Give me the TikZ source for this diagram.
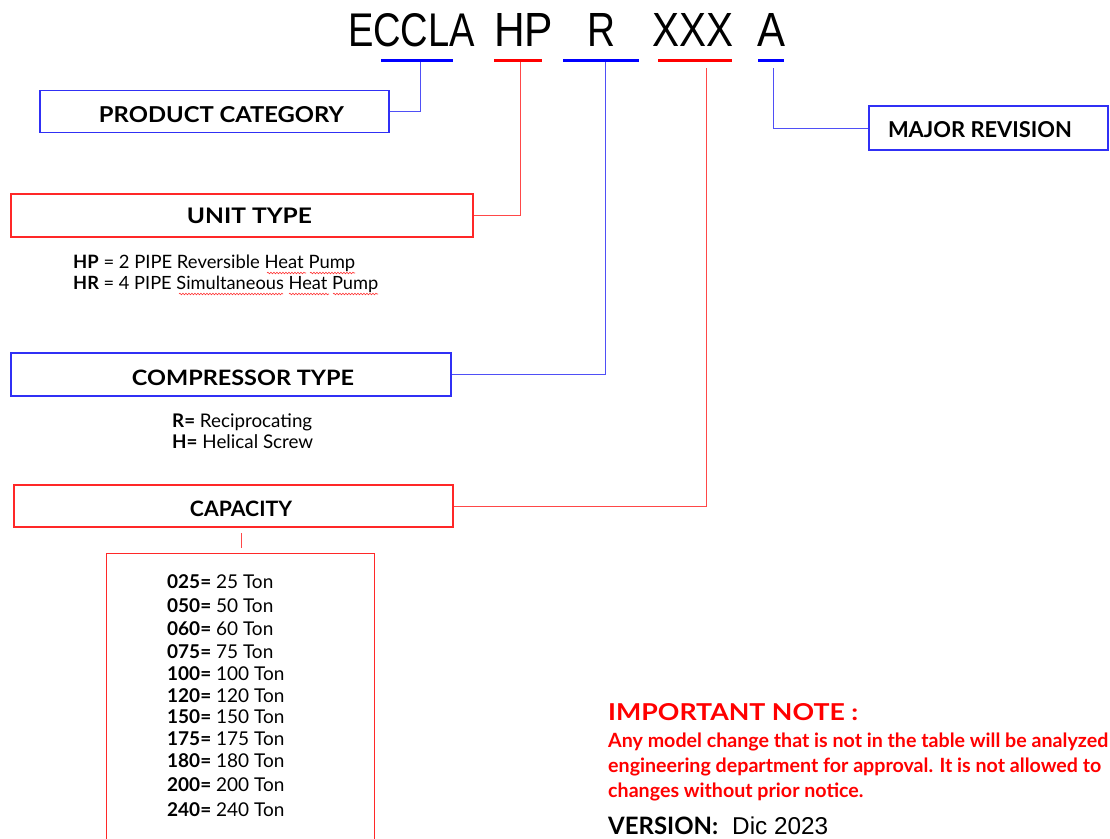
\documentclass[tikz,border=0pt]{standalone}
\usepackage{fontspec}
\setmainfont{Lato}
\newfontfamily\titlefont{Liberation Sans}
\usetikzlibrary{decorations.pathmorphing}
\definecolor{cblue}{HTML}{3030F5}
\definecolor{cred}{HTML}{FF2828}
\definecolor{ublue}{HTML}{0000FF}
\definecolor{ured}{HTML}{FF0000}
\newlength\nlw
\tikzset{
 bbox/.style={draw=cblue, line width=1.4pt, inner sep=0pt},
 rbox/.style={draw=cred, line width=1.4pt, inner sep=0pt},
 bcon/.style={draw=cblue!85, line width=1pt},
 rcon/.style={draw=cred!85, line width=1pt},
 bul/.style={draw=ublue, line width=3pt},
 rul/.style={draw=ured, line width=3pt},
 txt/.style={inner sep=0pt, anchor=base west},
 lab/.style={inner sep=0pt, anchor=base},
 squig/.style={draw=red!80, line width=0.6pt, decorate, decoration={snake, amplitude=0.8pt, segment length=3pt}}
}
\newcommand\bodyfont{\fontsize{16}{19}\selectfont}
\newcommand\capfont{\fontsize{19}{22}\selectfont}
\newcommand\notefont{\fontsize{16}{19}\selectfont\bfseries}
\AtBeginDocument{\settowidth\nlw{\notefont Any model change that is not in the table will be analyzed}}
\begin{document}
\begin{tikzpicture}[x=1pt,y=-1pt]
\pgfmathsetmacro\nsc{500/\nlw}
\useasboundingbox (0,0) rectangle (1110,838);
\fill[white] (0,0) rectangle (1110,838);
% title
\node[lab] (t1) at (411.5,46) {\resizebox{127pt}{33pt}{\titlefont ECCLA}};
\node[lab] (t2) at (523.5,46) {\resizebox{59pt}{33pt}{\titlefont HP}};
\node[lab] (t3) at (601,46) {\resizebox{28pt}{33pt}{\titlefont R}};
\node[lab] (t4) at (693,46) {\resizebox{81pt}{33pt}{\titlefont XXX}};
\node[lab] (t5) at (771,46) {\resizebox{28pt}{33pt}{\titlefont A}};
% underlines
\coordinate (u1a) at (381,60); \coordinate (u1b) at (453,60);
\coordinate (u2a) at (494,60); \coordinate (u2b) at (542,60);
\coordinate (u3a) at (563,60); \coordinate (u3b) at (639,60);
\coordinate (u4a) at (658,60); \coordinate (u4b) at (732,60);
\coordinate (u5a) at (758,60); \coordinate (u5b) at (784,60);
\draw[bul] (u1a) -- (u1b);
\draw[rul] (u2a) -- (u2b);
\draw[bul] (u3a) -- (u3b);
\draw[rul] (u4a) -- (u4b);
\draw[bul] (u5a) -- (u5b);
% connector tops
\coordinate (c1) at (420,62);
\coordinate (c2) at (520,62);
\coordinate (c3) at (605,62);
\coordinate (c4) at (706,68);
\coordinate (c5) at (773,68);
% boxes
\node[bbox, minimum width=349pt, minimum height=42pt] (pc) at (214.5,111.5) {};
\node[lab] (pct) at (221.5,122) {\resizebox{245pt}{16pt}{\bfseries PRODUCT CATEGORY}};
\node[rbox, minimum width=462pt, minimum height=43pt] (ut) at (242,215.5) {};
\node[lab] (utt) at (249.5,223) {\resizebox{125pt}{15.5pt}{\bfseries UNIT TYPE}};
\node[bbox, minimum width=440pt, minimum height=43pt] (ct) at (231,374.5) {};
\node[lab] (ctt) at (243,385) {\resizebox{222pt}{15.5pt}{\bfseries COMPRESSOR TYPE}};
\node[rbox, minimum width=439pt, minimum height=42pt] (cp) at (233.5,506) {};
\node[lab] (cpt) at (241,516) {\resizebox{102pt}{15.5pt}{\bfseries CAPACITY}};
\node[bbox, minimum width=239pt, minimum height=44pt] (mr) at (988.5,128) {};
\node[lab] (mrt) at (980,137) {\resizebox{184pt}{16pt}{\bfseries MAJOR REVISION}};
\node[rbox, minimum width=268pt, minimum height=320pt, anchor=north west] (cl) at (106,553) {};
% connectors
\draw[bcon] (pc.east) -| (c1);
\draw[rcon] (ut.east) -| (c2);
\draw[bcon] (ct.east) -| (c3);
\draw[rcon] (cp.east) -| (c4);
\draw[bcon] (mr.west) -| (c5);
\coordinate (s1) at (241,533); \coordinate (s2) at (241,548);
\draw[rcon] (s1) -- (s2);
% unit type text
\node[txt] (hp) at (73,268) {\resizebox{282pt}{!}{\bodyfont\textbf{HP} = 2 PIPE Reversible Heat Pump}};
\node[txt] (hr) at (73,289) {\resizebox{305pt}{!}{\bodyfont\textbf{HR} = 4 PIPE Simultaneous Heat Pump}};
\draw[squig] (267,273) -- (306,273);
\draw[squig] (310,273) -- (355,273);
\draw[squig] (179,294) -- (283,294);
\draw[squig] (289,294) -- (329,294);
\draw[squig] (333,294) -- (378,294);
% compressor text
\node[txt] (rr) at (172,427) {\resizebox{140pt}{!}{\bodyfont\textbf{R=} Reciprocating}};
\node[txt] (hh) at (172,448) {\resizebox{141pt}{!}{\bodyfont\textbf{H=} Helical Screw}};
% capacity list
\node[txt] (k1) at (167,588) {\capfont\textbf{025=} 25 Ton};
\node[txt] (k2) at (167,612) {\capfont\textbf{050=} 50 Ton};
\node[txt] (k3) at (167,635) {\capfont\textbf{060=} 60 Ton};
\node[txt] (k4) at (167,658) {\capfont\textbf{075=} 75 Ton};
\node[txt] (k5) at (167,680) {\capfont\textbf{100=} 100 Ton};
\node[txt] (k6) at (167,702) {\capfont\textbf{120=} 120 Ton};
\node[txt] (k7) at (167,723) {\capfont\textbf{150=} 150 Ton};
\node[txt] (k8) at (167,745) {\capfont\textbf{175=} 175 Ton};
\node[txt] (k9) at (167,767) {\capfont\textbf{180=} 180 Ton};
\node[txt] (k10) at (167,791) {\capfont\textbf{200=} 200 Ton};
\node[txt] (k11) at (167,816) {\capfont\textbf{240=} 240 Ton};
% note
\node[txt] (inote) at (608,720) {\resizebox{250pt}{17pt}{\bfseries\color{ured}IMPORTANT NOTE :}};
\node[txt] (n1) at (608,747) {\scalebox{\nsc}{\notefont\color{ured} Any model change that is not in the table will be analyzed}};
\node[txt] (n2) at (608,772) {\scalebox{\nsc}{\notefont\color{ured} engineering department for approval. It is not allowed to}};
\node[txt] (n3) at (608,797) {\scalebox{\nsc}{\notefont\color{ured} changes without prior notice.}};
\node[txt] (ver) at (608,834.5) {\resizebox{110pt}{!}{\bfseries VERSION:}};
\node[txt] (dic) at (732,834.5) {\resizebox{96pt}{!}{\titlefont Dic 2023}};
\end{tikzpicture}
\end{document}
